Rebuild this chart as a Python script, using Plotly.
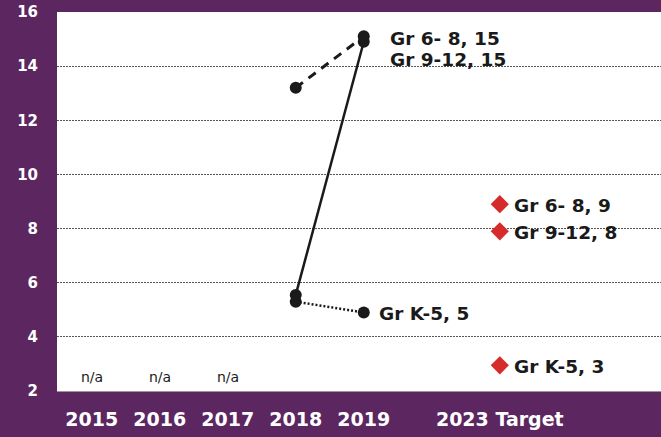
import plotly.graph_objects as go

tick_pos = [0, 1, 2, 3, 4, 6]
tick_labels = ["2015", "2016", "2017", "2018", "2019", "2023 Target"]

years_x = [3, 4]
k5 = [5.3, 4.9]
g68 = [13.2, 15.1]
g912 = [5.55, 14.9]

target_x = 6
target_vals = [8.9, 7.9, 2.95]
target_labels = ["Gr 6- 8, 9", "Gr 9-12, 8", "Gr K-5, 3"]

na_x = [0, 1, 2]
na_text = "n/a"

PURPLE = "#5c2661"
FONT = "DejaVu Sans, sans-serif"
INK = "#1a1a1a"

fig = go.Figure()

fig.add_trace(go.Scatter(x=years_x, y=k5, mode="lines+markers",
                         line=dict(color=INK, width=2.5, dash="2px,2px"),
                         marker=dict(size=12, color=INK)))
fig.add_trace(go.Scatter(x=years_x, y=g68, mode="lines+markers",
                         line=dict(color=INK, width=3, dash="9px,7px"),
                         marker=dict(size=12, color=INK)))
fig.add_trace(go.Scatter(x=years_x, y=g912, mode="lines+markers",
                         line=dict(color=INK, width=2.5),
                         marker=dict(size=12, color=INK)))
fig.add_trace(go.Scatter(x=[target_x] * len(target_vals), y=target_vals, mode="markers",
                         marker=dict(symbol="diamond", size=14, color="#d62b2b")))

anns = []
lab_font = dict(family=FONT, size=18.5, color=INK, weight="bold")
anns.append(dict(x=years_x[1], y=g68[1], text="Gr 6- 8, 15", xanchor="left", yanchor="middle",
                 xshift=24, yshift=-2, showarrow=False, font=lab_font))
anns.append(dict(x=years_x[1], y=g912[1], text="Gr 9-12, 15", xanchor="left", yanchor="middle",
                 xshift=24, yshift=-18, showarrow=False, font=lab_font))
anns.append(dict(x=years_x[1], y=k5[1], text="Gr K-5, 5", xanchor="left", yanchor="middle",
                 xshift=13, yshift=-1, showarrow=False, font=lab_font))
for v, t in zip(target_vals, target_labels):
    anns.append(dict(x=target_x, y=v, text=t, xanchor="left", yanchor="middle",
                     xshift=12, yshift=-1, showarrow=False, font=lab_font))
for xx in na_x:
    anns.append(dict(x=xx, y=2.52, text=na_text, xanchor="center", yanchor="middle",
                     showarrow=False, font=dict(family=FONT, size=14, color=INK)))

fig.update_layout(
    width=661, height=437,
    margin=dict(l=57, r=0, t=12, b=46),
    paper_bgcolor=PURPLE, plot_bgcolor="white",
    showlegend=False,
    annotations=anns,
    xaxis=dict(range=[-0.51, 8.37], tickvals=tick_pos, ticktext=tick_labels,
               showgrid=False, zeroline=False, showline=True, linecolor="#999999", linewidth=1,
               ticks="", ticklabelstandoff=11, automargin=False,
               tickfont=dict(family=FONT, size=19, color="white", weight="bold"),
               fixedrange=True),
    yaxis=dict(range=[2, 16], tickvals=[2, 4, 6, 8, 10, 12, 14, 16],
               showgrid=True, gridcolor="#555555", griddash="2px,1px", gridwidth=1,
               zeroline=False, showline=False, ticks="", ticklabelstandoff=18,
               automargin=False,
               tickfont=dict(family=FONT, size=15, color="white", weight="bold"),
               fixedrange=True),
)

fig.write_html("out.html", config={"displayModeBar": False},
               post_script="document.body.style.margin='0px';document.body.style.background='%s';" % PURPLE)
